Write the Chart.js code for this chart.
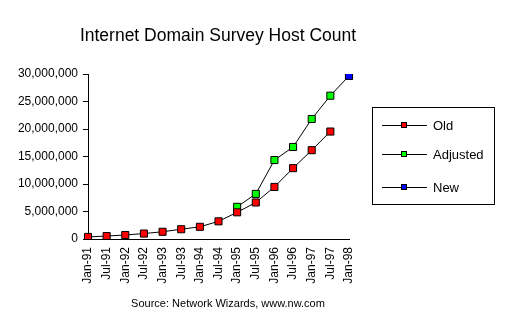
<!DOCTYPE html>
<html><head><meta charset="utf-8">
<script src="https://cdn.jsdelivr.net/npm/chart.js@4/dist/chart.umd.min.js"></script>
<style>html,body{margin:0;padding:0;background:#fff;}#wrap{width:513px;height:324px;position:relative;}</style>
</head><body><div id="wrap"><canvas id="c" width="513" height="324"></canvas></div>
<script>
const categories = ["Jan-91","Jul-91","Jan-92","Jul-92","Jan-93","Jul-93","Jan-94","Jul-94","Jan-95","Jul-95","Jan-96","Jul-96","Jan-97","Jul-97","Jan-98"];
const oldValues = [376000,535000,727000,992000,1313000,1776000,2217000,3212000,4852000,6642000,9472000,12881000,16146000,19540000,null];
const adjustedValues = [null,null,null,null,null,null,null,null,5846000,8200000,14352000,16729000,21819000,26053000,29670000];
const newValues = [null,null,null,null,null,null,null,null,null,null,null,null,null,null,29670000];
const yTicks = [0,5000000,10000000,15000000,20000000,25000000,30000000];
const titleText = "Internet Domain Survey Host Count";
const sourceText = "Source: Network Wizards, www.nw.com";
const seriesNames = ["Old","Adjusted","New"];

const FONT = "Arial, 'Liberation Sans', sans-serif";

const extras = {
  id: 'extras',
  afterDraw(chart) {
    const ctx = chart.ctx;
    ctx.save();
    ctx.fillStyle = '#000';
    ctx.font = "17.5px " + FONT;
    ctx.textAlign = 'center';
    ctx.textBaseline = 'middle';
    ctx.fillText(titleText, 218, 36);
    ctx.font = "11px " + FONT;
    ctx.fillText(sourceText, 228, 304);
    // legend box
    ctx.strokeStyle = '#000';
    ctx.lineWidth = 1;
    ctx.strokeRect(372.5, 107.5, 122, 97);
    const ys = [125, 154, 187];
    const colors = ['#FF0000', '#00FF00', '#0000FF'];
    ys.forEach((y, i) => {
      ctx.beginPath();
      ctx.moveTo(382, y + 0.5);
      ctx.lineTo(427, y + 0.5);
      ctx.stroke();
      ctx.fillStyle = colors[i];
      ctx.fillRect(401.5, y - 2.5, 5, 5);
      ctx.strokeRect(401.5, y - 2.5, 5, 5);
      ctx.fillStyle = '#000';
      ctx.textAlign = 'left';
      ctx.font = "13px " + FONT;
      ctx.fillText(seriesNames[i], 433, y + 1);
    });
    ctx.restore();
  }
};

function mk(label, data, color, order) {
  return {
    label, data, order,
    borderColor: '#000', borderWidth: 1,
    pointStyle: 'rect', pointRadius: 5, pointHoverRadius: 5,
    pointBackgroundColor: color, pointBorderColor: '#000', pointBorderWidth: 1,
    spanGaps: false, tension: 0, fill: false
  };
}

new Chart(document.getElementById('c'), {
  type: 'line',
  data: {
    labels: categories,
    datasets: [
      mk(seriesNames[0], oldValues, '#FF0000', 1),
      mk(seriesNames[1], adjustedValues, '#00FF00', 1),
      mk(seriesNames[2], newValues, '#0000FF', 0)
    ]
  },
  options: {
    responsive: false, animation: false, devicePixelRatio: 1,
    layout: { padding: { top: 74, right: 164, left: 0, bottom: 0 } },
    plugins: { legend: { display: false }, title: { display: false }, tooltip: { enabled: false } },
    scales: {
      x: {
        offset: false,
        grid: { display: false, drawOnChartArea: false, drawTicks: true, tickLength: 4, tickColor: '#000' },
        border: { color: '#000', width: 1 },
        ticks: { color: '#000', font: { family: FONT, size: 12 }, minRotation: 90, maxRotation: 90, autoSkip: false, padding: 4 },
        afterFit(s) { s.height = 85; }
      },
      y: {
        min: 0, max: 30000000,
        afterBuildTicks(s) { s.ticks = yTicks.map(v => ({ value: v })); },
        grid: { display: true, drawOnChartArea: false, drawTicks: true, tickLength: 5, tickColor: '#000' },
        border: { color: '#000', width: 1 },
        ticks: { color: '#000', font: { family: FONT, size: 12 }, padding: 5,
          callback: v => v.toLocaleString('en-US') },
        afterFit(s) { s.width = 88; }
      }
    }
  },
  plugins: [extras]
});
</script></body></html>
